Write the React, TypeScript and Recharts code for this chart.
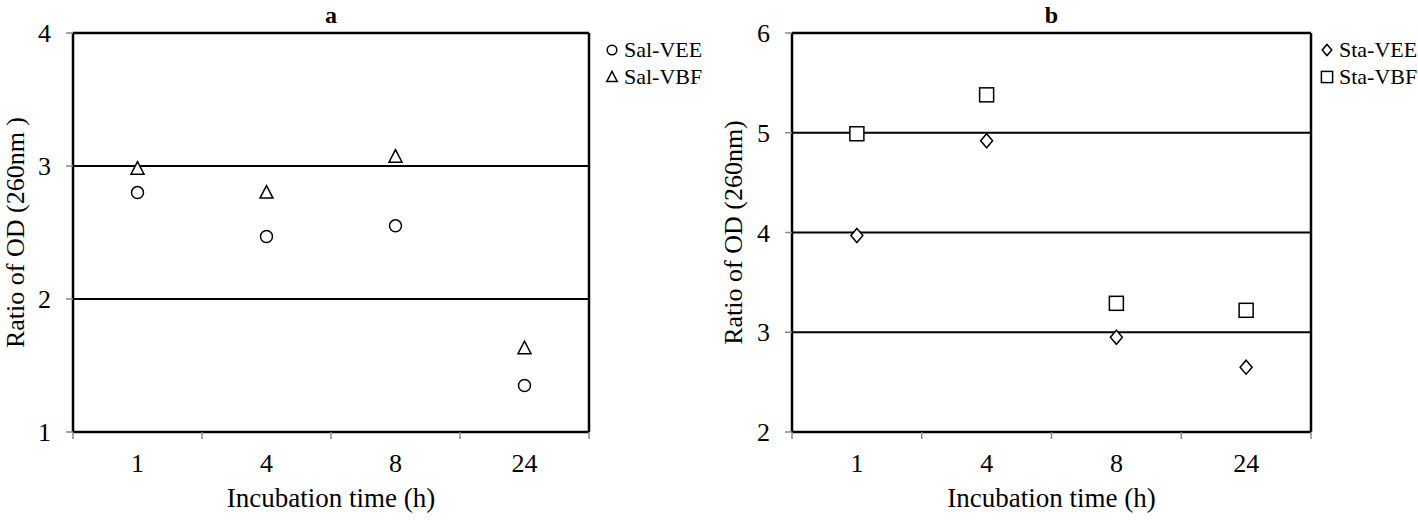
import React from "react";
import {
  ComposedChart,
  Scatter,
  XAxis,
  YAxis,
  CartesianGrid,
  Legend,
  Label,
} from "recharts";

const times = ["1", "4", "8", "24"];

// panel a
const salVEE = [2.8, 2.47, 2.55, 1.35];
const salVBF = [2.98, 2.8, 3.07, 1.63];
const ticksA = [1, 2, 3, 4];

// panel b
const staVEE = [3.97, 4.92, 2.95, 2.65];
const staVBF = [4.99, 5.38, 3.29, 3.22];
const ticksB = [2, 3, 4, 5, 6];

const FONT = '"Liberation Serif", "Times New Roman", serif';

type MarkerKind = "circle" | "triangle" | "diamond" | "square";

function Marker({ kind, cx, cy, s = 1 }: { kind: MarkerKind; cx: number; cy: number; s?: number }) {
  const common = { fill: "#fff", stroke: "#000", strokeWidth: 1.5 };
  if (kind === "circle") return <circle cx={cx} cy={cy} r={6 * s} {...common} />;
  if (kind === "square")
    return <rect x={cx - 7 * s} y={cy - 7 * s} width={14 * s} height={14 * s} {...common} />;
  if (kind === "triangle")
    return (
      <polygon
        points={`${cx},${cy - 7 * s} ${cx + 6.5 * s},${cy + 5.5 * s} ${cx - 6.5 * s},${cy + 5.5 * s}`}
        {...common}
      />
    );
  return (
    <polygon
      points={`${cx},${cy - 7 * s} ${cx + 6 * s},${cy} ${cx},${cy + 7 * s} ${cx - 6 * s},${cy}`}
      {...common}
    />
  );
}

// tick marks sit on the category boundaries (Excel style), half a band off the centre
function EdgeTick(props: any) {
  const { x, y, payload, index, visibleTicksCount } = props;
  const half = payload?.offset ?? 0;
  return (
    <g stroke="#888" strokeWidth={1.5}>
      <line x1={x - half} x2={x - half} y1={y - 1} y2={y + 6} />
      {index === visibleTicksCount - 1 && <line x1={x + half} x2={x + half} y1={y - 1} y2={y + 6} />}
    </g>
  );
}

type SeriesDef = { key: string; name: string; values: number[]; kind: MarkerKind };

interface PanelProps {
  title: string;
  series: SeriesDef[];
  domain: [number, number];
  yTicks: number[];
  yLabel: string;
  margin: { top: number; right: number; bottom: number; left: number };
  legendLeft: number;
  yLabelOffset: number;
}

function Panel({ title, series, domain, yTicks, yLabel, margin, legendLeft, yLabelOffset }: PanelProps) {
  const data = times.map((t, i) => {
    const row: Record<string, string | number> = { time: t };
    series.forEach((s) => (row[s.key] = s.values[i]));
    return row;
  });

  const renderLegend = () => (
    <div style={{ fontFamily: FONT, fontSize: 22, color: "#000" }}>
      {series.map((s) => (
        <div key={s.key} style={{ display: "flex", alignItems: "center", height: 27 }}>
          <svg width={14} height={16} style={{ marginRight: 5 }}>
            <Marker kind={s.kind} cx={7} cy={8} s={0.8} />
          </svg>
          <span>{s.name}</span>
        </div>
      ))}
    </div>
  );

  return (
    <ComposedChart width={709} height={520} data={data} margin={margin} style={{ fontFamily: FONT }}>
      <CartesianGrid vertical={false} stroke="#000" strokeWidth={2} />
      <XAxis
        dataKey="time"
        type="category"
        scale="band"
        height={1}
        tickLine={false}
        tickSize={0}
        tickMargin={22}
        axisLine={{ stroke: "#000", strokeWidth: 2.5 }}
        tick={{ fill: "#000", fontSize: 26, fontFamily: FONT }}
      >
        <Label
          value="Incubation time (h)"
          position="bottom"
          offset={55}
          style={{ fill: "#000", fontSize: 27, fontFamily: FONT }}
        />
      </XAxis>
      <XAxis
        xAxisId="edge"
        dataKey="time"
        type="category"
        scale="band"
        height={1}
        axisLine={false}
        tickLine={false}
        tickSize={0}
        tickMargin={0}
        interval={0}
        tick={<EdgeTick />}
      />
      <XAxis
        xAxisId="top"
        orientation="top"
        dataKey="time"
        type="category"
        scale="band"
        height={1}
        tick={false}
        tickLine={false}
        axisLine={{ stroke: "#000", strokeWidth: 2.5 }}
      >
        <Label
          value={title}
          position="top"
          offset={9}
          style={{ fill: "#000", fontSize: 24, fontWeight: "bold", fontFamily: FONT }}
        />
      </XAxis>
      <YAxis
        domain={domain}
        ticks={yTicks}
        width={1}
        tickSize={7}
        tickMargin={15}
        tickLine={{ stroke: "#888", strokeWidth: 1.5 }}
        axisLine={{ stroke: "#000", strokeWidth: 2.5 }}
        tick={{ fill: "#000", fontSize: 26, fontFamily: FONT }}
      >
        <Label
          value={yLabel}
          angle={-90}
          position="insideLeft"
          offset={yLabelOffset}
          style={{ textAnchor: "middle", fill: "#000", fontSize: 26, fontFamily: FONT }}
        />
      </YAxis>
      <YAxis
        yAxisId="right"
        orientation="right"
        domain={domain}
        allowDataOverflow
        width={1}
        tick={false}
        tickLine={false}
        axisLine={{ stroke: "#000", strokeWidth: 2.5 }}
      />
      <Legend
        layout="vertical"
        verticalAlign="middle"
        align="center"
        content={renderLegend}
        wrapperStyle={{ position: "absolute", left: legendLeft, top: 36, width: 110 }}
      />
      {series.map((s) => (
        <Scatter
          key={s.key}
          dataKey={s.key}
          name={s.name}
          isAnimationActive={false}
          shape={(p: any) => <Marker kind={s.kind} cx={p.cx} cy={p.cy} />}
        />
      ))}
    </ComposedChart>
  );
}

export default function App() {
  return (
    <div
      style={{
        position: "absolute",
        left: 0,
        top: 0,
        width: 1418,
        height: 520,
        background: "#fff",
        fontFamily: FONT,
      }}
    >
      <div style={{ position: "absolute", left: 0, top: 0 }}>
        <Panel
          title="a"
          series={[
            { key: "salVEE", name: "Sal-VEE", values: salVEE, kind: "circle" },
            { key: "salVBF", name: "Sal-VBF", values: salVBF, kind: "triangle" },
          ]}
          domain={[1, 4]}
          yTicks={ticksA}
          yLabel="Ratio of OD (260nm )"
          margin={{ top: 32, right: 119, bottom: 86, left: 72 }}
          legendLeft={605}
          yLabelOffset={-57}
        />
      </div>
      <div style={{ position: "absolute", left: 709, top: 0 }}>
        <Panel
          title="b"
          series={[
            { key: "staVEE", name: "Sta-VEE", values: staVEE, kind: "diamond" },
            { key: "staVBF", name: "Sta-VBF", values: staVBF, kind: "square" },
          ]}
          domain={[2, 6]}
          yTicks={ticksB}
          yLabel="Ratio of OD (260nm)"
          margin={{ top: 32, right: 106, bottom: 86, left: 82 }}
          legendLeft={611}
          yLabelOffset={-58}
        />
      </div>
    </div>
  );
}
